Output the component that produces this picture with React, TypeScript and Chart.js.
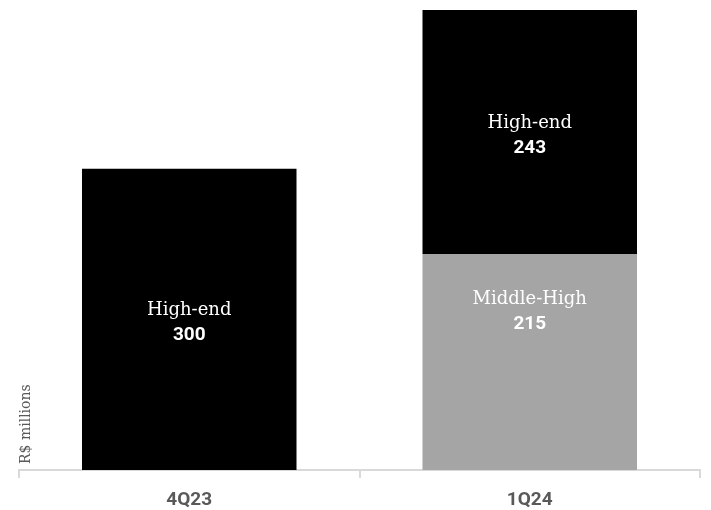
import React, { useEffect, useRef } from "react";
import { Chart, registerables } from "chart.js";

Chart.register(...registerables);

const categories = ["4Q23", "1Q24"];
const middleHigh = [null, 215];
const highEnd = [300, 243];
const seriesNames = ["Middle-High", "High-end"];
const yTitle = "R$ millions";

const labelPlugin = {
  id: "barLabels",
  afterDatasetsDraw(chart: any) {
    const ctx = chart.ctx;
    const offsets = [-54, 0];
    chart.data.datasets.forEach((ds: any, di: number) => {
      const meta = chart.getDatasetMeta(di);
      meta.data.forEach((bar: any, i: number) => {
        const v = ds.data[i];
        if (v == null) return;
        const cy = (bar.y + bar.base) / 2 + offsets[di];
        ctx.save();
        ctx.fillStyle = "#ffffff";
        ctx.textAlign = "center";
        ctx.textBaseline = "middle";
        ctx.font = "18px 'DejaVu Serif'";
        ctx.fillText(ds.label, bar.x, cy - 9);
        ctx.font = "bold 19px Roboto";
        ctx.fillText(String(v), bar.x, cy + 16);
        ctx.restore();
      });
    });
    const ca = chart.chartArea;
    ctx.save();
    ctx.translate(26, ca.bottom - 6);
    ctx.rotate(-Math.PI / 2);
    ctx.fillStyle = "#595959";
    ctx.font = "14px 'DejaVu Serif'";
    ctx.textAlign = "left";
    ctx.textBaseline = "middle";
    ctx.fillText(yTitle, 0, 0);
    ctx.restore();
  },
};

export default function App() {
  const ref = useRef<HTMLCanvasElement>(null);
  useEffect(() => {
    if (!ref.current) return;
    const chart = new Chart(ref.current, {
      type: "bar",
      data: {
        labels: categories,
        datasets: [
          {
            label: seriesNames[0],
            data: middleHigh as any,
            backgroundColor: "#a5a5a5",
          },
          {
            label: seriesNames[1],
            data: highEnd,
            backgroundColor: "#000000",
          },
        ],
      },
      options: {
        animation: false,
        responsive: false,
        maintainAspectRatio: false,
        layout: { padding: { left: 19, right: 11, top: 10, bottom: 0 } },
        plugins: {
          legend: { display: false },
          tooltip: { enabled: false },
        },
        datasets: {
          bar: { categoryPercentage: 1, barPercentage: 0.63 },
        },
        scales: {
          x: {
            stacked: true,
            afterFit: (scale: any) => {
              scale.height = 40;
            },
            grid: {
              offset: true,
              drawOnChartArea: false,
              drawTicks: true,
              tickLength: 8,
              color: "#d9d9d9",
              lineWidth: 2,
            },
            border: { display: true, color: "#d9d9d9", width: 2 },
            ticks: {
              color: "#595959",
              font: { family: "Roboto", size: 19, weight: "bold" },
              padding: 11,
            },
          },
          y: {
            stacked: true,
            display: false,
            min: 0,
            max: 458,
          },
        },
      },
      plugins: [labelPlugin],
    });
    return () => chart.destroy();
  }, []);
  return (
    <div style={{ position: "fixed", left: 0, top: 0, width: 711, height: 510, background: "#fff" }}>
      <canvas ref={ref} width={711} height={510} style={{ display: "block" }} />
    </div>
  );
}
